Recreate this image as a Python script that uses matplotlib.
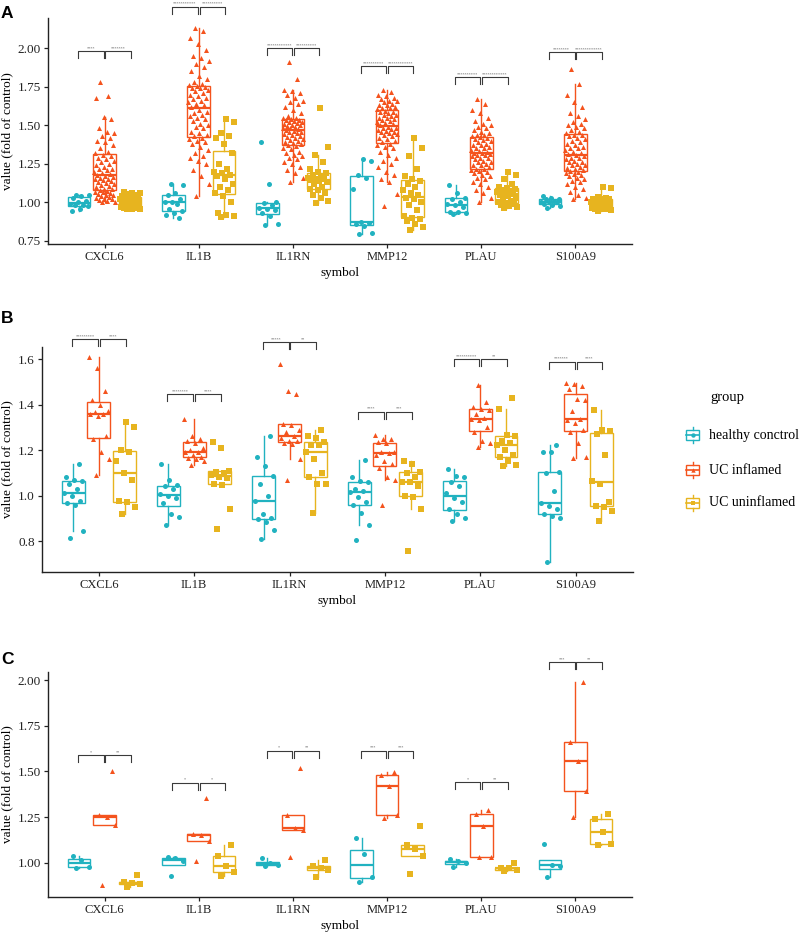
import numpy as np
import matplotlib
matplotlib.use('Agg')
import matplotlib.pyplot as plt
from matplotlib.patches import Rectangle

plt.rcParams['font.family'] = ['Liberation Serif', 'DejaVu Serif']

genes = ['CXCL6', 'IL1B', 'IL1RN', 'MMP12', 'PLAU', 'S100A9']
groups = ['healthy conctrol', 'UC inflamed', 'UC uninflamed']
colors = ['#21B2C0', '#F4531D', '#E7B41F']
markers = ['o', '^', 's']

# ---- panel A values (fold of control) ----
a_healthy = {
    'CXCL6': [1.05, 1.045, 1.04, 1.03, 1.01, 1.0, 0.99, 0.985, 0.98, 0.975, 0.96, 0.945],
    'IL1B': [1.12, 1.11, 1.06, 1.05, 1.02, 1.005, 1.0, 0.99, 0.96, 0.945, 0.93, 0.915, 0.90],
    'IL1RN': [0.855, 0.86, 0.91, 0.93, 0.95, 0.96, 0.965, 0.98, 0.995, 1.0, 1.12, 1.39],
    'MMP12': [0.795, 0.80, 0.85, 0.86, 0.865, 0.875, 1.09, 1.16, 1.18, 1.27, 1.28],
    'PLAU': [0.925, 0.93, 0.935, 0.94, 0.97, 0.98, 0.99, 1.0, 1.025, 1.03, 1.06, 1.11],
    'S100A9': [0.965, 0.975, 0.985, 0.99, 1.0, 1.005, 1.005, 1.01, 1.02, 1.02, 1.03, 1.04],
}
a_inflamed = {
    'CXCL6': [1.00, 1.005, 1.01, 1.015, 1.02, 1.025, 1.03, 1.035, 1.04, 1.045, 1.05, 1.055, 1.06, 1.065, 1.07, 1.072,
              1.08, 1.085, 1.09, 1.10, 1.105, 1.11, 1.12, 1.125, 1.13, 1.14, 1.145, 1.15, 1.155, 1.16, 1.165, 1.17,
              1.18, 1.185, 1.19, 1.20, 1.21, 1.215, 1.22, 1.23, 1.24, 1.25, 1.26, 1.27, 1.28, 1.29, 1.30, 1.31,
              1.32, 1.33, 1.35, 1.37, 1.39, 1.40, 1.42, 1.43, 1.45, 1.46, 1.48, 1.54, 1.555, 1.68, 1.69, 1.78],
    'IL1B': [1.04, 1.12, 1.17, 1.21, 1.25, 1.27, 1.29, 1.30, 1.32, 1.34, 1.36, 1.38, 1.39, 1.40, 1.41, 1.42,
             1.43, 1.44, 1.45, 1.46, 1.48, 1.49, 1.50, 1.51, 1.53, 1.54, 1.55, 1.56, 1.57, 1.58, 1.59, 1.60,
             1.62, 1.63, 1.64, 1.65, 1.66, 1.67, 1.68, 1.69, 1.70, 1.71, 1.72, 1.73, 1.74, 1.745, 1.75, 1.755,
             1.76, 1.77, 1.78, 1.80, 1.82, 1.85, 1.88, 1.90, 1.92, 1.94, 1.95, 1.99, 2.03, 2.07, 2.11, 2.13],
    'IL1RN': [1.13, 1.16, 1.19, 1.21, 1.23, 1.25, 1.26, 1.28, 1.29, 1.30, 1.31, 1.32, 1.33, 1.345, 1.355, 1.365,
              1.375, 1.38, 1.385, 1.39, 1.40, 1.405, 1.41, 1.42, 1.425, 1.43, 1.44, 1.445, 1.45, 1.455, 1.46, 1.465,
              1.47, 1.475, 1.48, 1.485, 1.49, 1.495, 1.50, 1.505, 1.51, 1.515, 1.52, 1.525, 1.53, 1.533, 1.536, 1.539,
              1.545, 1.55, 1.56, 1.58, 1.60, 1.62, 1.64, 1.65, 1.66, 1.68, 1.70, 1.71, 1.72, 1.73, 1.80, 1.91],
    'MMP12': [0.975, 1.055, 1.13, 1.15, 1.18, 1.20, 1.23, 1.25, 1.27, 1.29, 1.31, 1.33, 1.35, 1.36, 1.37, 1.38,
              1.39, 1.40, 1.41, 1.42, 1.43, 1.44, 1.445, 1.45, 1.455, 1.46, 1.465, 1.47, 1.475, 1.48, 1.485, 1.49,
              1.50, 1.51, 1.515, 1.52, 1.53, 1.535, 1.54, 1.545, 1.55, 1.56, 1.565, 1.57, 1.58, 1.585, 1.59, 1.595,
              1.605, 1.61, 1.615, 1.62, 1.63, 1.635, 1.64, 1.65, 1.655, 1.66, 1.67, 1.68, 1.69, 1.70, 1.715, 1.73],
    'PLAU': [1.005, 1.03, 1.06, 1.08, 1.10, 1.12, 1.13, 1.15, 1.16, 1.17, 1.18, 1.19, 1.20, 1.205, 1.21, 1.215,
             1.22, 1.23, 1.24, 1.245, 1.25, 1.26, 1.265, 1.27, 1.28, 1.285, 1.29, 1.30, 1.305, 1.31, 1.315, 1.318,
             1.322, 1.33, 1.335, 1.34, 1.35, 1.355, 1.36, 1.37, 1.375, 1.38, 1.39, 1.40, 1.405, 1.41, 1.42, 1.425,
             1.43, 1.435, 1.44, 1.45, 1.46, 1.47, 1.48, 1.49, 1.50, 1.51, 1.53, 1.55, 1.58, 1.60, 1.64, 1.67],
    'S100A9': [1.02, 1.03, 1.05, 1.07, 1.09, 1.10, 1.12, 1.13, 1.14, 1.15, 1.16, 1.17, 1.18, 1.185, 1.19, 1.195,
               1.205, 1.21, 1.22, 1.225, 1.23, 1.24, 1.245, 1.25, 1.26, 1.265, 1.27, 1.28, 1.285, 1.29, 1.30, 1.305,
               1.315, 1.32, 1.33, 1.34, 1.35, 1.355, 1.36, 1.37, 1.38, 1.39, 1.40, 1.41, 1.42, 1.43, 1.435, 1.44,
               1.45, 1.46, 1.47, 1.48, 1.49, 1.50, 1.51, 1.52, 1.54, 1.56, 1.58, 1.62, 1.65, 1.70, 1.77, 1.865],
}
a_uninflamed = {
    'CXCL6': [0.955, 0.958, 0.96, 0.962, 0.964, 0.966, 0.968, 0.975, 0.985, 0.995, 1.0, 1.005, 1.01, 1.015, 1.02,
              1.025, 1.03, 1.035, 1.038, 1.042, 1.048, 1.052, 1.058, 1.062, 1.068],
    'IL1B': [0.905, 0.91, 0.92, 0.93, 1.0, 1.04, 1.06, 1.08, 1.10, 1.12, 1.15, 1.17, 1.18, 1.19, 1.20, 1.22,
             1.25, 1.32, 1.38, 1.42, 1.43, 1.45, 1.52, 1.54],
    'IL1RN': [0.995, 1.01, 1.03, 1.05, 1.06, 1.08, 1.09, 1.10, 1.12, 1.13, 1.14, 1.145, 1.15, 1.155, 1.16, 1.17,
              1.18, 1.19, 1.20, 1.22, 1.26, 1.31, 1.36, 1.61],
    'MMP12': [0.82, 0.84, 0.86, 0.88, 0.89, 0.90, 0.91, 0.95, 0.98, 1.0, 1.02, 1.03, 1.045, 1.06, 1.08, 1.10,
              1.12, 1.14, 1.15, 1.17, 1.22, 1.30, 1.35, 1.415],
    'PLAU': [0.962, 0.97, 0.975, 0.985, 0.99, 0.995, 1.0, 1.01, 1.02, 1.03, 1.04, 1.05, 1.055, 1.06, 1.065, 1.07,
             1.08, 1.09, 1.095, 1.10, 1.12, 1.15, 1.18, 1.20],
    'S100A9': [0.945, 0.95, 0.955, 0.958, 0.96, 0.962, 0.965, 0.97, 0.975, 0.98, 0.985, 0.99, 0.995, 1.0, 1.005,
               1.01, 1.015, 1.02, 1.022, 1.025, 1.03, 1.035, 1.095, 1.098],
}
a_sig = [('****', '*******'), ('***********', '**********'), ('************', '**********'),
         ('**********', '************'), ('**********', '************'), ('********', '*************')]
a_sig_y = [1.98, 2.27, 2.0, 1.885, 1.812, 1.975]

# ---- panel B values ----
b_healthy = {
    'CXCL6': [0.815, 0.845, 0.96, 0.968, 0.975, 1.0, 1.01, 1.03, 1.05, 1.065, 1.07, 1.08, 1.14],
    'IL1B': [0.87, 0.905, 0.92, 0.965, 0.99, 1.0, 1.005, 1.03, 1.04, 1.045, 1.07, 1.14],
    'IL1RN': [0.81, 0.85, 0.885, 0.895, 0.90, 0.92, 0.975, 1.0, 1.05, 1.085, 1.13, 1.17, 1.26],
    'MMP12': [0.805, 0.87, 0.925, 0.96, 0.97, 0.995, 1.015, 1.02, 1.03, 1.06, 1.065, 1.08, 1.155],
    'PLAU': [0.89, 0.90, 0.92, 0.94, 0.97, 0.99, 1.01, 1.04, 1.06, 1.08, 1.085, 1.115],
    'S100A9': [0.71, 0.90, 0.91, 0.92, 0.94, 0.955, 0.965, 1.02, 1.10, 1.105, 1.19, 1.19, 1.22],
}
b_inflamed = {
    'CXCL6': [1.09, 1.16, 1.19, 1.25, 1.26, 1.35, 1.36, 1.36, 1.365, 1.37, 1.40, 1.42, 1.46, 1.56, 1.61],
    'IL1B': [1.135, 1.15, 1.16, 1.165, 1.17, 1.18, 1.19, 1.19, 1.20, 1.21, 1.23, 1.24, 1.25, 1.26, 1.335],
    'IL1RN': [1.07, 1.16, 1.225, 1.23, 1.24, 1.24, 1.255, 1.26, 1.28, 1.29, 1.31, 1.315, 1.445, 1.46, 1.58],
    'MMP12': [0.96, 1.07, 1.08, 1.12, 1.14, 1.15, 1.18, 1.185, 1.19, 1.19, 1.23, 1.235, 1.25, 1.25, 1.265],
    'PLAU': [1.215, 1.23, 1.24, 1.28, 1.30, 1.33, 1.335, 1.34, 1.36, 1.375, 1.38, 1.39, 1.41, 1.485],
    'S100A9': [1.165, 1.17, 1.23, 1.28, 1.29, 1.32, 1.33, 1.335, 1.37, 1.42, 1.425, 1.47, 1.48, 1.49, 1.495],
}
b_uninflamed = {
    'CXCL6': [0.92, 0.95, 0.97, 0.975, 1.07, 1.10, 1.15, 1.19, 1.20, 1.30, 1.325],
    'IL1B': [0.855, 0.94, 1.045, 1.05, 1.075, 1.08, 1.09, 1.10, 1.105, 1.11, 1.21, 1.235],
    'IL1RN': [0.925, 1.05, 1.05, 1.08, 1.10, 1.16, 1.19, 1.22, 1.22, 1.235, 1.255, 1.26, 1.29],
    'MMP12': [0.755, 0.94, 0.995, 1.0, 1.04, 1.06, 1.06, 1.08, 1.10, 1.105, 1.14, 1.15],
    'PLAU': [1.13, 1.135, 1.15, 1.17, 1.18, 1.20, 1.22, 1.23, 1.24, 1.26, 1.265, 1.38, 1.43],
    'S100A9': [0.89, 0.93, 0.95, 0.955, 0.97, 1.05, 1.065, 1.18, 1.27, 1.285, 1.29, 1.375],
}
b_sig = [('*********', '****'), ('********', '****'), ('*****', '**'),
         ('****', '***'), ('**********', '**'), ('*******', '****')]
b_sig_y = [1.686, 1.446, 1.673, 1.369, 1.60, 1.588]

# ---- panel C values ----
c_healthy = {
    'CXCL6': [0.97, 0.98, 1.015, 1.04],
    'IL1B': [0.93, 1.01, 1.025, 1.03],
    'IL1RN': [0.985, 0.99, 1.0, 1.025],
    'MMP12': [0.895, 0.925, 1.05, 1.135],
    'PLAU': [0.98, 1.0, 1.01, 1.02],
    'S100A9': [0.923, 0.985, 0.99, 1.102],
}
c_inflamed = {
    'CXCL6': [0.88, 1.21, 1.25, 1.26, 1.505],
    'IL1B': [1.01, 1.12, 1.15, 1.16, 1.355],
    'IL1RN': [1.03, 1.18, 1.19, 1.26, 1.52],
    'MMP12': [1.243, 1.26, 1.42, 1.48, 1.495],
    'PLAU': [1.03, 1.035, 1.2, 1.27, 1.29],
    'S100A9': [1.249, 1.395, 1.56, 1.66, 1.99],
}
c_uninflamed = {
    'CXCL6': [0.87, 0.885, 0.89, 0.895, 0.935],
    'IL1B': [0.93, 0.95, 0.985, 1.04, 1.10],
    'IL1RN': [0.925, 0.96, 0.97, 0.985, 1.015],
    'MMP12': [0.94, 1.04, 1.075, 1.10, 1.20],
    'PLAU': [0.955, 0.96, 0.97, 0.975, 1.0],
    'S100A9': [1.097, 1.105, 1.17, 1.238, 1.27],
}
c_sig = [('*', '**'), ('*', '*'), ('*', '**'), ('***', '***'), ('*', '**'), ('***', '**')]
c_sig_y = [1.59, 1.439, 1.614, 1.614, 1.44, 2.097]

offsets = [-0.27, 0.0, 0.27]


def jitter(n, width=0.11):
    # deterministic spread (golden-ratio sequence) in place of geom_jitter
    idx = np.arange(n)
    return ((idx * 0.6180339887 + 0.37) % 1.0 - 0.5) * 2 * width


def draw_panel(ax, data3, sig, sig_y, ylim, yticks, fmt):
    span = ylim[1] - ylim[0]
    for gi, gene in enumerate(genes):
        x0 = gi + 1
        for k in range(3):
            vals = np.array(data3[k][gene])
            c = colors[k]
            pos = x0 + offsets[k]
            ax.boxplot(vals, positions=[pos], widths=0.24, whis=1.5, showfliers=False,
                       showcaps=False, patch_artist=True, manage_ticks=False,
                       boxprops=dict(facecolor='white', edgecolor=c, linewidth=1.0),
                       whiskerprops=dict(color=c, linewidth=1.0),
                       medianprops=dict(color=c, linewidth=1.6), zorder=2)
            ax.scatter(pos + jitter(len(vals)), vals, marker=markers[k], s=13,
                       color=c, linewidths=0, zorder=3, clip_on=False)
        # significance brackets
        tip = 0.031 * span
        y = sig_y[gi]
        for (xa, xb), lab in zip([(x0 - 0.28, x0 - 0.01), (x0 + 0.01, x0 + 0.28)], sig[gi]):
            ax.plot([xa, xa, xb, xb], [y - tip, y, y, y - tip], color='#3a3a3a',
                    lw=0.8, clip_on=False, zorder=4)
            ax.text((xa + xb) / 2, y + 0.004 * span, lab, ha='center', va='bottom',
                    fontsize=3.0, color='#555555', family='DejaVu Sans')
    ax.set_xlim(0.4, 6.6)
    ax.set_ylim(*ylim)
    ax.set_xticks(range(1, 7))
    ax.set_xticklabels(genes)
    ax.set_yticks(yticks)
    ax.set_yticklabels([fmt % t for t in yticks])
    ax.spines['top'].set_visible(False)
    ax.spines['right'].set_visible(False)
    for s in ['left', 'bottom']:
        ax.spines[s].set_linewidth(1.0)
        ax.spines[s].set_color('#222222')
    ax.tick_params(axis='both', labelsize=9, colors='#222222', length=3, width=0.9, pad=2)
    ax.tick_params(axis='y', labelsize=9.5)
    ax.set_xlabel('symbol', fontsize=9.5, labelpad=3)
    ax.set_ylabel('value (fold of control)', fontsize=9.5, labelpad=3)


fig = plt.figure(figsize=(8, 9.32), dpi=100)

ax_a = fig.add_axes([0.06, 0.7382, 0.73, 0.2425])
draw_panel(ax_a, [a_healthy, a_inflamed, a_uninflamed], a_sig, a_sig_y, (0.73, 2.197),
           [0.75, 1.00, 1.25, 1.50, 1.75, 2.00], '%.2f')

ax_b = fig.add_axes([0.052, 0.3863, 0.739, 0.2414])
draw_panel(ax_b, [b_healthy, b_inflamed, b_uninflamed], b_sig, b_sig_y, (0.664, 1.653),
           [0.8, 1.0, 1.2, 1.4, 1.6], '%.1f')

ax_c = fig.add_axes([0.06, 0.0376, 0.73, 0.2414])
draw_panel(ax_c, [c_healthy, c_inflamed, c_uninflamed], c_sig, c_sig_y, (0.814, 2.044),
           [1.00, 1.25, 1.50, 1.75, 2.00], '%.2f')

# panel letters
for lab, ytop in [('A', 6), ('B', 311), ('C', 652)]:
    fig.text(1 / 800, 1 - ytop / 932, lab, fontsize=12.5, fontweight='bold',
             family='Liberation Sans', va='top', ha='left')

# legend drawn in pixel coordinates
lg = fig.add_axes([0, 0, 1, 1])
lg.set_xlim(0, 800)
lg.set_ylim(932, 0)
lg.axis('off')
lg.text(710, 398, 'group', fontsize=10.5, va='center', ha='left')
for k, (name, yc) in enumerate(zip(groups, [435, 470, 503])):
    c = colors[k]
    lg.add_patch(Rectangle((686, yc - 5), 13, 10, facecolor='white', edgecolor=c, lw=1.0))
    lg.plot([692.5, 692.5], [yc - 8, yc - 5], color=c, lw=1.0)
    lg.plot([692.5, 692.5], [yc + 5, yc + 8], color=c, lw=1.0)
    lg.plot([686, 699], [yc, yc], color=c, lw=1.2)
    lg.scatter([692.5], [yc], marker=markers[k], s=10, color=c, linewidths=0, zorder=3)
    lg.text(709, yc, name, fontsize=10, va='center', ha='left')

fig.savefig('out.png', dpi=100)
